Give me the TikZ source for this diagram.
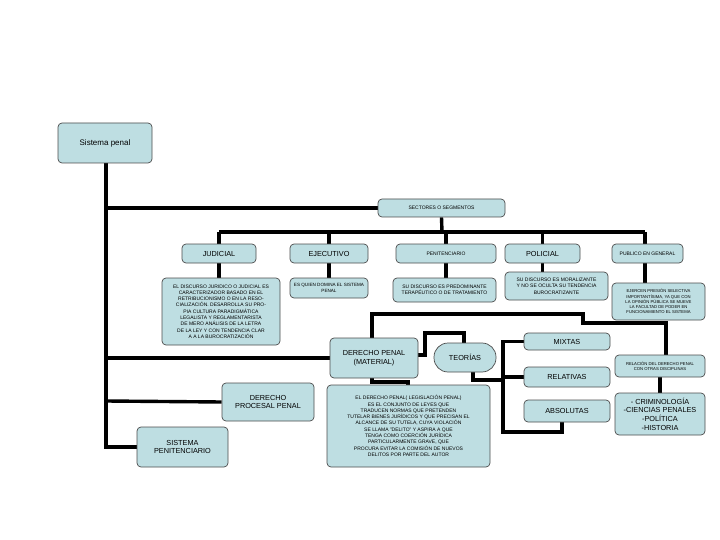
\documentclass[tikz,border=0pt]{standalone}
\usepackage{fontspec}
\setmainfont{Liberation Sans}
\usetikzlibrary{backgrounds}
\begin{document}
\begin{tikzpicture}[x=1pt,y=-1pt,
 box/.style={draw=black!70,fill=boxc,rounded corners=4pt,line width=0.7pt,align=center,inner sep=0pt},
 ln/.style={line width=3.4pt},
 t/.style={font=\fontsize{5}{6.3}\selectfont},
 s/.style={font=\fontsize{7.3}{8.6}\selectfont}]
\definecolor{boxc}{HTML}{BEDEE2}
\useasboundingbox (0,0) rectangle (720,540);
\newcommand\bx[6]{\node[box,#6,minimum width=#3-#1,minimum height=#4-#2] (#5) at ({(#1+#3)/2},{(#2+#4)/2})}
% boxes
\bx{58}{123}{152}{163}{sp}{font=\fontsize{8}{9}\selectfont}{Sistema penal};
\bx{378}{199}{505}{217}{sec}{t}{SECTORES O SEGMENTOS};
\bx{182}{244}{256}{263}{jud}{s}{JUDICIAL};
\bx{290}{244}{368}{263}{eje}{s}{EJECUTIVO};
\bx{396}{244}{496}{263}{pen}{t}{PENITENCIARIO};
\bx{505}{244}{580}{263}{pol}{s}{POLICIAL};
\bx{612}{244}{683}{263}{pub}{t}{PUBLICO EN GENERAL};
\bx{162}{278}{280}{345}{jd}{t}{EL DISCURSO JURIDICO O JUDICIAL ES\\CARACTERIZADOR BASADO EN EL\\RETRIBUCIONISMO O EN LA RESO-\\CIALIZACIÓN. DESARROLLA SU PRO-\\PIA CULTURA PARADIGMÁTICA\\LEGALISTA Y REGLAMENTARISTA\\DE MERO ANÁLISIS DE LA LETRA\\DE LA LEY Y CON TENDENCIA CLAR\\A A LA BUROCRATIZACIÓN};
\bx{290}{278}{368}{298}{ed}{font=\fontsize{4.6}{6}\selectfont}{ES QUIEN DOMINA EL SISTEMA\\PENAL};
\bx{393}{278}{496}{302}{pd}{t}{SU DISCURSO ES PREDOMINANTE\\TERAPÉUTICO O DE TRATAMIENTO};
\bx{505}{272}{608}{300}{pod}{t}{SU DISCURSO ES MORALIZANTE\\Y NO SE OCULTA SU TENDENCIA\\BUROCRATIZANTE};
\bx{612}{283}{705}{320}{pubd}{font=\fontsize{4.2}{5.3}\selectfont}{EJERCEN PRESIÓN SELECTIVA\\IMPORTANTÍSIMA, YA QUE CON\\LA OPINIÓN PÚBLICA SE MUEVE\\LA FACULTAD DE PODER EN\\FUNCIONAMIENTO EL SISTEMA};
\bx{330}{338}{418}{378}{dp}{s}{DERECHO PENAL\\(MATERIAL)};
\node[box,s,rounded corners=14pt,minimum width=62,minimum height=29] (teo) at (465,357.5) {TEORÍAS};
\bx{524}{333}{610}{350}{mix}{s}{MIXTAS};
\bx{524}{367}{610}{387}{rel}{s}{RELATIVAS};
\bx{524}{400}{610}{422}{abs}{s}{ABSOLUTAS};
\bx{615}{355}{705}{377}{rd}{font=\fontsize{4.2}{5.3}\selectfont}{RELACIÓN DEL DERECHO PENAL\\CON OTRAS DISCIPLINAS};
\bx{615}{393}{705}{435}{cri}{s}{- CRIMINOLOGÍA\\-CIENCIAS PENALES\\-POLÍTICA\\-HISTORIA};
\bx{327}{385}{490}{467}{dpd}{t}{EL DERECHO PENAL( LEGISLACIÓN PENAL)\\ES EL CONJUNTO DE LEYES QUE\\TRADUCEN NORMAS QUE PRETENDEN\\TUTELAR BIENES JURÍDICOS Y QUE PRECISAN EL\\ALCANCE DE SU TUTELA, CUYA VIOLACIÓN\\SE LLAMA "DELITO" Y ASPIRA A QUE\\TENGA COMO COERCIÓN JURÍDICA\\PARTICULARMENTE GRAVE, QUE\\PROCURA EVITAR LA COMISIÓN DE NUEVOS\\DELITOS POR PARTE DEL AUTOR};
\bx{222}{383}{314}{421}{dpp}{s}{DERECHO\\PROCESAL PENAL};
\bx{137}{427}{228}{467}{spen}{s}{SISTEMA\\PENITENCIARIO};
% connectors
\begin{scope}[on background layer]
\draw[ln] (sp.south -| 106,0) -- (106,447) -- (spen.west |- 0,447);
\draw[ln] (106,208) -- (sec.west);
\draw[ln] (106,358) -- (dp.west);
\draw[ln] (106,401) -- (dpp.west);
\draw[ln] (sec.south) -- (442,232);
\draw[ln] (219,232) -- (645,232);
\draw[ln] (219,232) -- (jud.north); \draw[ln] (jud.south) -- (jd.north -| jud.south);
\draw[ln] (eje.north |- 0,232) -- (eje.north); \draw[ln] (eje.south) -- (ed.north -| eje.south);
\draw[ln] (pen.north |- 0,232) -- (pen.north); \draw[ln] (pen.south) -- (pd.north -| pen.south);
\draw[ln] (pol.north |- 0,232) -- (pol.north); \draw[ln] (pol.south) -- (pod.north -| pol.south);
\draw[ln] (645,232) -- (pub.north -| 645,0); \draw[ln] (pub.south -| 645,0) -- (pubd.north -| 645,0);
\draw[ln] (dp.north -| 372,0) -- (372,314) -- (583,314) -- (583,323) -- (666,323) -- (rd.north -| 666,0);
\draw[ln] (rd.south -| 660,0) -- (cri.north -| 660,0);
\draw[ln] (dp.east |- 0,355) -- (425,355) -- (425,333) -- (464,333) -- (teo.north -| 464,0);
\draw[ln] (teo.south -| 473,0) -- (473,380) -- (503,380);
\draw[ln] (mix.west) -- (503,341.5) -- (503,432) -- (562,432) -- (abs.south -| 562,0);
\draw[ln] (503,377) -- (rel.west |- 0,377);
\draw[ln] (dp.south -| 372,0) -- (372,382) -- (408,382) -- (dpd.north -| 408,0);
\end{scope}
\end{tikzpicture}
\end{document}
